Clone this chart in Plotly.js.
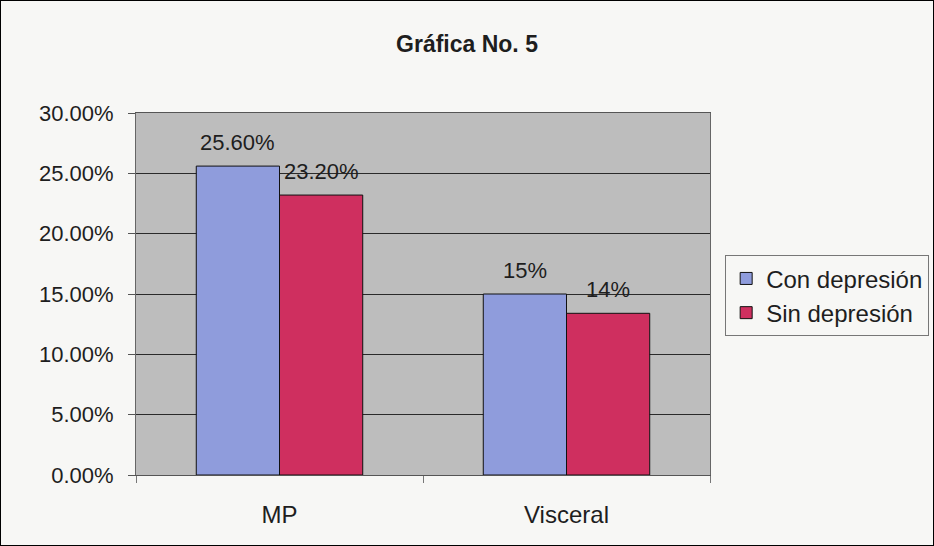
<!DOCTYPE html>
<html>
<head>
<meta charset="utf-8">
<script src="https://cdn.plot.ly/plotly-3.0.1.min.js"></script>
<style>
html,body{margin:0;padding:0;background:#f7f7f5;}
#frame{width:934px;height:546px;box-sizing:border-box;border:1px solid #000;background:#f7f7f5;}
#chart{width:932px;height:544px;}
</style>
</head>
<body>
<div id="frame"><div id="chart"></div></div>
<script>
const categories = ["MP", "Visceral"];
const conDepresion = [25.6, 15.0];
const sinDepresion = [23.2, 13.4];
const conLabels = ["25.60%", "15%"];
const sinLabels = ["23.20%", "14%"];
const seriesNames = ["Con depresión", "Sin depresión"];
const yTicks = [0, 5, 10, 15, 20, 25, 30];
const yTickLabels = ["0.00%", "5.00%", "10.00%", "15.00%", "20.00%", "25.00%", "30.00%"];

const FAM = "Arial, Liberation Sans, sans-serif";
const INK = "#1e1e1e";
const BARGAP = 0.42;
const halfBar = (1 - BARGAP) / 4; // centre offset of each bar within its group

const traces = [
  {type: "bar", name: seriesNames[0], x: categories, y: conDepresion,
   marker: {color: "#8f9cdc", line: {color: "#111", width: 1}}},
  {type: "bar", name: seriesNames[1], x: categories, y: sinDepresion,
   marker: {color: "#cf2f5f", line: {color: "#111", width: 1}}}
];

const annotations = [];
categories.forEach((c, i) => {
  annotations.push({x: i - halfBar, y: conDepresion[i], text: conLabels[i], xref: "x", yref: "y",
    showarrow: false, yanchor: "bottom", yshift: 9, font: {family: FAM, size: 22, color: INK}});
  annotations.push({x: i + halfBar, y: sinDepresion[i], text: sinLabels[i], xref: "x", yref: "y",
    showarrow: false, yanchor: "bottom", yshift: 9, font: {family: FAM, size: 22, color: INK}});
});

const layout = {
  width: 932, height: 544,
  margin: {l: 135, r: 223, t: 112, b: 70},
  paper_bgcolor: "#f7f7f5",
  plot_bgcolor: "#bdbdbd",
  font: {family: FAM, color: INK},
  showlegend: true,
  title: {text: "<b>Gráfica No. 5</b>", font: {family: FAM, size: 23, color: INK},
          x: 0.5, xref: "container", xanchor: "center", y: 0.921, yanchor: "middle"},
  barmode: "group",
  bargap: BARGAP,
  bargroupgap: 0,
  annotations: annotations,
  xaxis: {
    tickfont: {family: FAM, size: 24, color: INK},
    showgrid: false, tickson: "boundaries", ticks: "outside", ticklen: 7, tickcolor: "#777",
    ticklabelstandoff: 18,
    showline: true, linecolor: "#555", linewidth: 1, mirror: true
  },
  yaxis: {
    range: [0, 30], tickvals: yTicks, ticktext: yTickLabels,
    tickfont: {family: FAM, size: 22, color: INK},
    showgrid: true, gridcolor: "#2a2a2a", gridwidth: 1,
    ticks: "outside", ticklen: 7, tickcolor: "#555",
    ticklabelstandoff: 10,
    showline: true, linecolor: "#666", linewidth: 1, mirror: true,
    zeroline: false
  },
  legend: {
    xref: "container", yref: "container",
    x: 0.777, xanchor: "left", y: 0.458, yanchor: "middle",
    bgcolor: "#f7f7f5", bordercolor: "#777", borderwidth: 1,
    font: {family: FAM, size: 24, color: INK},
    tracegroupgap: 2
  }
};

Plotly.newPlot("chart", traces, layout, {displayModeBar: false, staticPlot: true});
</script>
</body>
</html>
